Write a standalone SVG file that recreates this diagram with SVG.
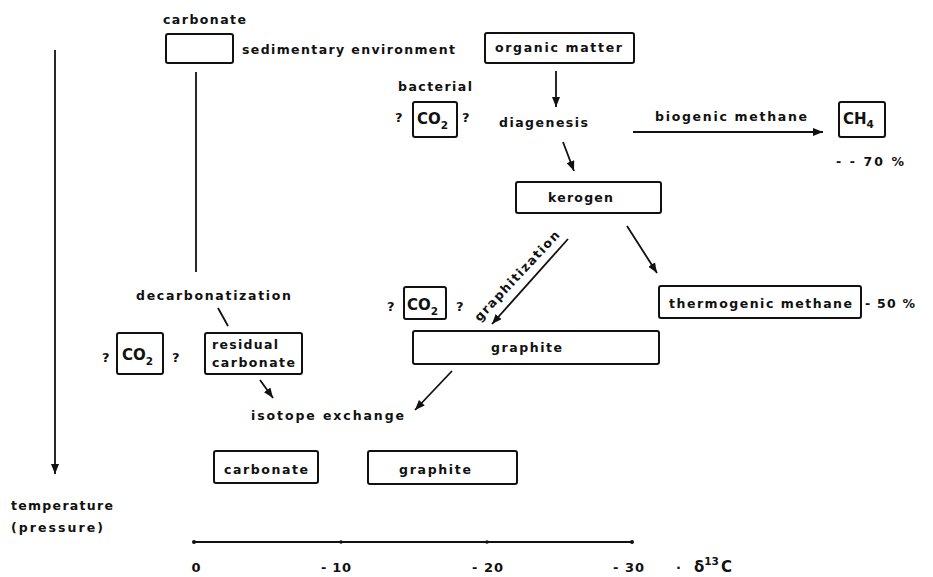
<svg xmlns="http://www.w3.org/2000/svg" width="933" height="577" viewBox="0 0 933 577">
<defs>
<style>
.t{font-family:"DejaVu Sans","Liberation Sans",sans-serif;font-weight:bold;font-size:12.5px;fill:#111;}
.n{font-size:13px;}
.q{font-size:13px;}
.big{font-family:"DejaVu Sans","Liberation Sans",sans-serif;font-weight:600;font-size:15px;fill:#111;}
.sub{font-size:10.5px;}
.box{fill:#fff;stroke:#111;stroke-width:2;}
.ln{stroke:#111;stroke-width:1.8;fill:none;}
.ar{stroke:#111;stroke-width:1.8;fill:none;marker-end:url(#ah);}
</style>
<marker id="ah" markerUnits="userSpaceOnUse" markerWidth="10" markerHeight="8" refX="10" refY="4" orient="auto">
<path d="M0,0 L10,4 L0,8 z" fill="#111"/>
</marker>
</defs>
<rect width="933" height="577" fill="#fff"/>

<g id="connectors">
<line class="ar" x1="556" y1="71" x2="556" y2="107"/>
<line class="ar" x1="563" y1="142" x2="574" y2="171"/>
<line class="ar" x1="633" y1="132" x2="823" y2="132"/>
<line class="ar" x1="568" y1="239" x2="492" y2="324"/>
<line class="ar" x1="627" y1="226" x2="657" y2="273"/>
<line class="ar" x1="260" y1="380" x2="273" y2="398"/>
<line class="ar" x1="452" y1="371" x2="415" y2="410"/>
<line class="ln" x1="196" y1="72" x2="196" y2="272"/>
<line class="ln" x1="218" y1="308" x2="228" y2="326"/>
</g>

<g id="axis-temperature">
<line class="ar" x1="55" y1="50" x2="55" y2="474"/>
<text class="t" x="11" y="510" textLength="102" lengthAdjust="spacing">temperature</text>
<text class="t" x="11" y="532" textLength="92" lengthAdjust="spacing">(pressure)</text>
</g>

<g id="axis-delta">
<line class="ln" x1="194" y1="542" x2="632" y2="542"/>
<circle cx="194" cy="542" r="2" fill="#111"/>
<circle cx="341" cy="542" r="1.8" fill="#111"/>
<circle cx="487" cy="542" r="1.8" fill="#111"/>
<circle cx="632" cy="542" r="2" fill="#111"/>
<text class="t n" x="196" y="572" text-anchor="middle">0</text>
<text class="t n" x="321" y="572" textLength="30" lengthAdjust="spacing">- 10</text>
<text class="t n" x="472" y="572" textLength="31" lengthAdjust="spacing">- 20</text>
<text class="t n" x="613" y="572" textLength="31" lengthAdjust="spacing">- 30</text>
<text class="t n" x="676" y="572">·</text>
<text class="big" x="694" y="572">δ<tspan class="sub" dy="-7">13</tspan><tspan dx="2" dy="7">C</tspan></text>
</g>

<g id="carbonate-top">
<text class="t" x="163" y="24" textLength="83" lengthAdjust="spacing">carbonate</text>
<rect class="box" x="166" y="34" width="67" height="29" rx="2"/>
</g>
<g id="sedimentary-environment">
<text class="t" x="242" y="54" textLength="213" lengthAdjust="spacing">sedimentary environment</text>
</g>

<g id="organic-matter">
<rect class="box" x="485" y="33" width="149" height="30" rx="2"/>
<text class="t" x="495" y="52" textLength="127" lengthAdjust="spacing">organic matter</text>
</g>

<g id="co2-bacterial">
<text class="t" x="398" y="91" textLength="74" lengthAdjust="spacing">bacterial</text>
<text class="t q" x="395" y="122">?</text>
<rect class="box" x="413" y="102" width="44" height="35" rx="2"/>
<text class="big" x="417" y="124">CO<tspan class="sub" dy="5">2</tspan></text>
<text class="t q" x="462" y="122">?</text>
</g>

<g id="diagenesis">
<text class="t" x="499" y="127" textLength="89" lengthAdjust="spacing">diagenesis</text>
</g>

<g id="biogenic-label">
<text class="t" x="655" y="121" textLength="152" lengthAdjust="spacing">biogenic methane</text>
</g>

<g id="ch4">
<rect class="box" x="839" y="102" width="46" height="35" rx="2"/>
<text class="big" x="843" y="124">CH<tspan class="sub" dy="4">4</tspan></text>
<text class="t" x="836" y="166" textLength="68" lengthAdjust="spacing">- - 70 %</text>
</g>

<g id="kerogen">
<rect class="box" x="516" y="182" width="145" height="31" rx="2"/>
<text class="t" x="548" y="202" textLength="65" lengthAdjust="spacing">kerogen</text>
</g>

<g id="graphitization-label">
<text class="t" transform="translate(520,279) rotate(-47)" x="0" y="0" text-anchor="middle" textLength="118" lengthAdjust="spacing">graphitization</text>
</g>

<g id="thermogenic-methane">
<rect class="box" x="659" y="286" width="202" height="32" rx="2"/>
<text class="t" x="669" y="308" textLength="183" lengthAdjust="spacing">thermogenic methane</text>
<text class="t" x="865" y="308" textLength="50" lengthAdjust="spacing">- 50 %</text>
</g>

<g id="co2-graphite">
<text class="t q" x="387" y="311">?</text>
<rect class="box" x="404" y="287" width="42" height="32" rx="2"/>
<text class="big" x="407" y="310">CO<tspan class="sub" dy="5">2</tspan></text>
<text class="t q" x="456" y="311">?</text>
</g>

<g id="graphite">
<rect class="box" x="413" y="331" width="246" height="33" rx="2"/>
<text class="t" x="491" y="352" textLength="71" lengthAdjust="spacing">graphite</text>
</g>

<g id="decarbonatization">
<text class="t" x="136" y="300" textLength="155" lengthAdjust="spacing">decarbonatization</text>
</g>

<g id="co2-carbonate">
<text class="t q" x="102" y="362">?</text>
<rect class="box" x="117" y="333" width="46" height="41" rx="2"/>
<text class="big" x="122" y="360">CO<tspan class="sub" dy="5">2</tspan></text>
<text class="t q" x="172" y="362">?</text>
</g>

<g id="residual-carbonate">
<rect class="box" x="205" y="333" width="97" height="41" rx="2"/>
<text class="t" x="212" y="349" textLength="66" lengthAdjust="spacing">residual</text>
<text class="t" x="212" y="367" textLength="83" lengthAdjust="spacing">carbonate</text>
</g>

<g id="isotope-exchange">
<text class="t" x="251" y="420" textLength="153" lengthAdjust="spacing">isotope exchange</text>
</g>

<g id="carbonate-bottom">
<rect class="box" x="214" y="451" width="104" height="32" rx="2"/>
<text class="t" x="224" y="474" textLength="84" lengthAdjust="spacing">carbonate</text>
</g>

<g id="graphite-bottom">
<rect class="box" x="368" y="451" width="149" height="33" rx="2"/>
<text class="t" x="399" y="474" textLength="72" lengthAdjust="spacing">graphite</text>
</g>
</svg>
